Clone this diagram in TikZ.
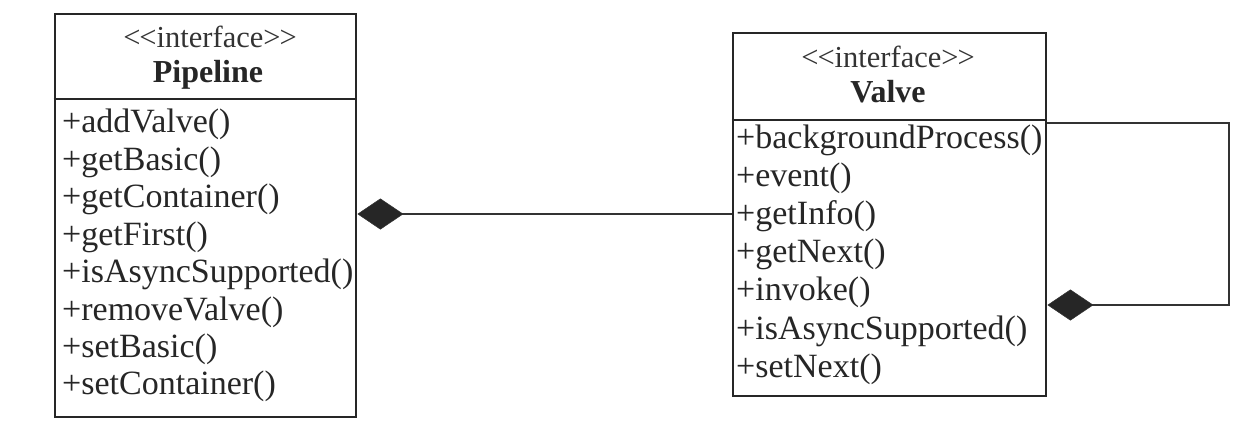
\documentclass[tikz,border=0pt]{standalone}
\usepackage{fontspec}
\setmainfont{Liberation Serif}
\usetikzlibrary{arrows.meta}
\newcommand{\stereotxt}{<\kern-1pt<interface>\kern-1pt>}
\begin{document}
\begin{tikzpicture}[x=1pt,y=-1pt,
  classbox/.style={draw=black!85, line width=2.8pt, rectangle, inner sep=0pt},
  sep/.style={draw=black!85, line width=2.4pt},
  stereo/.style={anchor=base, inner sep=0pt, font=\fontsize{30.5}{30.5}\selectfont, text=black!80},
  cname/.style={anchor=base, inner sep=0pt, font=\fontsize{32}{32}\selectfont\bfseries, text=black!85},
  meth/.style={anchor=base west, inner sep=0pt, font=\fontsize{34}{34}\selectfont, text=black!85},
  comp/.style={draw=black!80, line width=1.4pt, -{Diamond[length=46pt,width=31pt,fill=black!85,line width=0.5pt]}}]
\useasboundingbox (0,0) rectangle (1252,442);
% Pipeline
\node[classbox, minimum width=301pt, minimum height=403pt] (pipe) at (205.5,215.5) {};
\coordinate (psep) at (0,99);
\draw[sep] (pipe.west |- psep) -- (pipe.east |- psep);
\node[stereo] (pst) at (210,47) {\stereotxt};
\node[cname] (pnm) at (208,82) {Pipeline};
\node[meth] (p1) at (62,132) {+addValve()};
\node[meth] (p2) at (62,170) {+getBasic()};
\node[meth] (p3) at (62,207.5) {+getContainer()};
\node[meth] (p4) at (62,245) {+getFirst()};
\node[meth] (p5) at (62,282.5) {+isAsyncSupported()};
\node[meth] (p6) at (62,320) {+removeValve()};
\node[meth] (p7) at (62,357) {+setBasic()};
\node[meth] (p8) at (62,394) {+setContainer()};
% Valve
\node[classbox, minimum width=313pt, minimum height=363pt] (valve) at (889.5,214.5) {};
\coordinate (vsep) at (0,120);
\draw[sep] (valve.west |- vsep) -- (valve.east |- vsep);
\node[stereo] (vst) at (888,67) {\stereotxt};
\node[cname] (vnm) at (888,102) {Valve};
\node[meth] (v1) at (736,148) {+backgroundProcess()};
\node[meth] (v2) at (736,186) {+event()};
\node[meth] (v3) at (736,224) {+getInfo()};
\node[meth] (v4) at (736,262) {+getNext()};
\node[meth] (v5) at (736,300.5) {+invoke()};
\node[meth] (v6) at (736,339) {+isAsyncSupported()};
\node[meth] (v7) at (736,377) {+setNext()};
% composition Pipeline <>-- Valve
\coordinate (mid) at (0,214);
\draw[comp] (valve.west |- mid) -- (pipe.east |- mid);
% self composition on Valve
\coordinate (lt) at (0,123);
\coordinate (lb) at (0,305);
\coordinate (rt) at (1229,123);
\coordinate (rb) at (1229,305);
\draw[comp] (valve.east |- lt) -- (rt) -- (rb) -- (valve.east |- lb);
\end{tikzpicture}
\end{document}
